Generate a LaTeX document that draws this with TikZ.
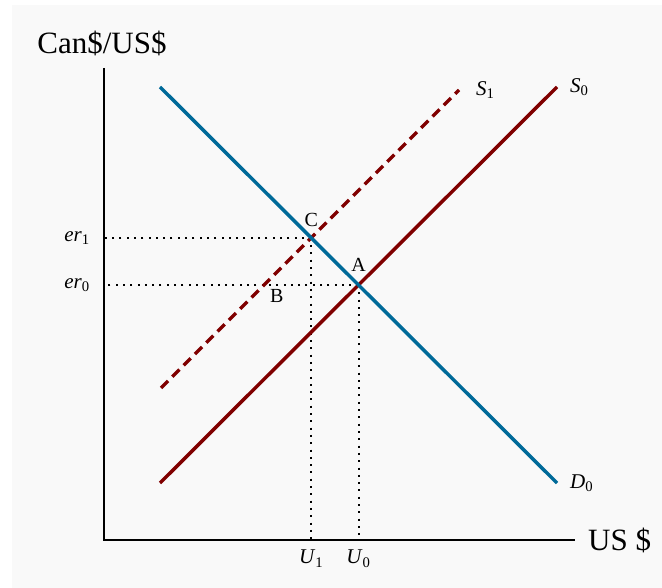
\documentclass[tikz,border=0pt]{standalone}
\usepackage{fontspec}
\setmainfont{Liberation Serif}
\usetikzlibrary{positioning, calc}
\definecolor{demand}{RGB}{0,106,153}
\definecolor{supply}{RGB}{128,0,0}
\definecolor{paper}{RGB}{249,249,249}

\begin{document}
\begin{tikzpicture}[x=1pt, y=-1pt,
  curve/.style={line width=3.5pt},
  guide/.style={line width=2pt, dash pattern=on 2pt off 5.3pt},
  lbl/.style={font=\fontsize{21}{24}\selectfont, inner sep=0pt},
  big/.style={font=\fontsize{31}{34}\selectfont, inner sep=0pt}]
  \useasboundingbox (0,0) rectangle (662,588);
  \fill[paper] (12,5) rectangle (662,588);
  % axes
  \coordinate (o) at (104,540);
  \coordinate (ytop) at (104,68);
  \coordinate (xend) at (575,540);
  \draw[line width=2pt] (ytop) -- (o) -- (xend);
  \node[big] (ytitle) at (102,43) {Can\$/US\$};
  \node[big, right=13pt of xend] (xtitle) {US \$};
  % curve end points
  \coordinate (d0a) at (160,87);  \coordinate (d0b) at (557,483);
  \coordinate (s0a) at (160,483); \coordinate (s0b) at (557,87);
  \coordinate (s1a) at (161,388); \coordinate (s1b) at (459,90);
  % equilibria
  \coordinate (A) at (intersection of d0a--d0b and s0a--s0b);
  \coordinate (C) at (intersection of d0a--d0b and s1a--s1b);
  \coordinate (er0) at (A -| o);
  \coordinate (er1) at (C -| o);
  \coordinate (B) at (intersection of s1a--s1b and A--er0);
  \coordinate (u0) at (A |- o);
  \coordinate (u1) at (C |- o);
  \foreach \p/\q in {A/er0, A/u0, C/er1, C/u1} \draw[guide] (\p) -- (\q);
  \draw[curve, supply, dash pattern=on 10pt off 6pt] (s1a) -- (s1b);
  \draw[curve, supply] (s0a) -- (s0b);
  \draw[curve, demand] (d0a) -- (d0b);
  % labels
  \node[lbl, right=17pt of s1b] (s1lab) {\textit{S}\textsubscript{1}};
  \node[lbl, right=13pt of s0b] (s0lab) {\textit{S}\textsubscript{0}};
  \node[lbl, right=13pt of d0b] (d0lab) {\textit{D}\textsubscript{0}};
  \node[lbl, left=14pt of er0] (er0lab) {\textit{er}\textsubscript{0}};
  \node[lbl, left=14pt of er1] (er1lab) {\textit{er}\textsubscript{1}};
  \node[lbl, below=10pt of u0] (u0lab) {\textit{U}\textsubscript{0}};
  \node[lbl, below=10pt of u1] (u1lab) {\textit{U}\textsubscript{1}};
  \node[lbl, font=\fontsize{20}{24}\selectfont, above=11pt of C] (clab) {C};
  \node[lbl, font=\fontsize{20}{24}\selectfont, above=13pt of A] (alab) {A};
  \node[lbl, font=\fontsize{20}{24}\selectfont, below right=4pt and 6pt of B] (blab) {B};
\end{tikzpicture}
\end{document}
